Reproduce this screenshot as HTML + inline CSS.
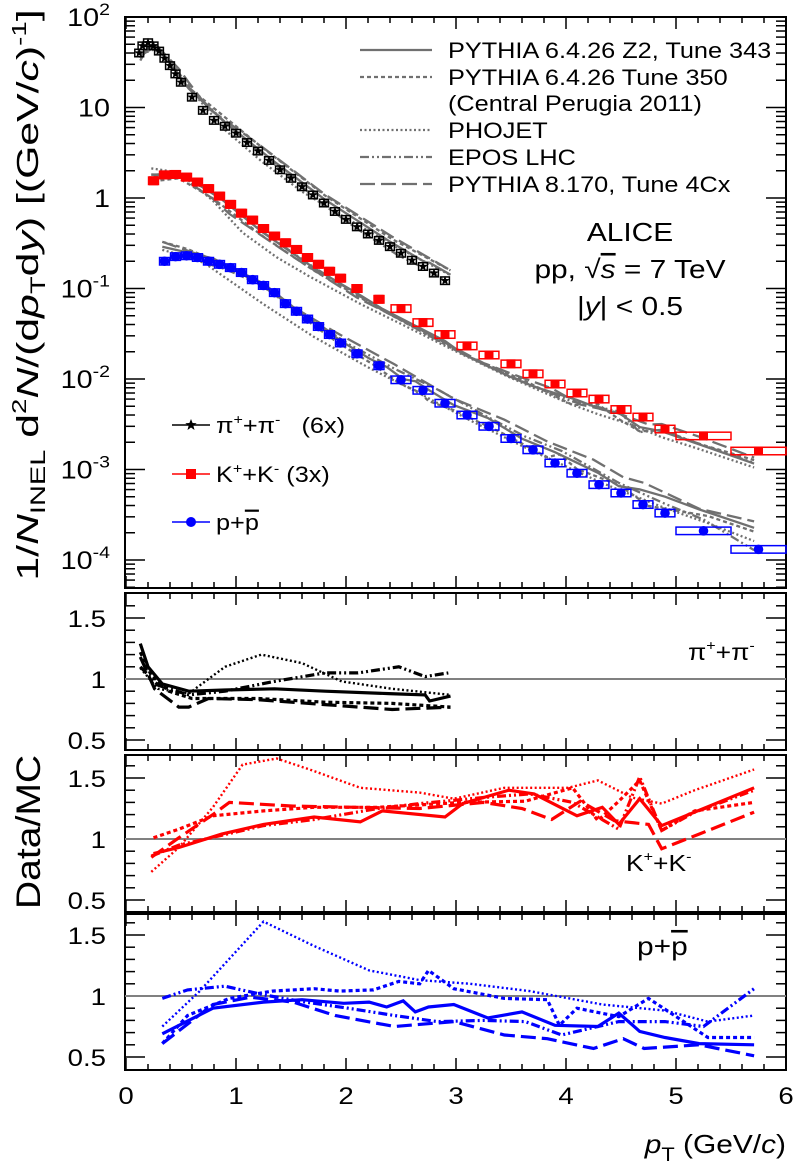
<!DOCTYPE html>
<html><head><meta charset="utf-8"><style>
html,body{margin:0;padding:0;background:#fff;}
svg{display:block;font-family:"Liberation Sans",sans-serif;}
</style></head><body>
<svg id="c" width="796" height="1168" viewBox="0 0 796 1168" xmlns="http://www.w3.org/2000/svg">
<g id="frames"></g>
<g id="marks"></g>
<g id="texts"></g>
</svg>
<script>
// ---------- data ----------
const piPt = [0.12,0.15,0.2,0.25,0.3,0.35,0.4,0.45,0.5,0.6,0.7,0.8,0.9,1.0,1.1,1.2,1.3,1.4,1.5,1.6,1.7,1.8,1.9,2.0,2.1,2.2,2.3,2.4,2.5,2.6,2.7,2.8,2.9];
const piVal = [40,48,52,48,42,35,29,23.5,19,13,9.3,7.2,6.2,5.2,4.1,3.3,2.6,2.05,1.65,1.33,1.08,0.88,0.71,0.58,0.48,0.40,0.34,0.29,0.245,0.205,0.175,0.148,0.122];
const kPt = [0.25,0.35,0.45,0.55,0.65,0.75,0.85,0.95,1.05,1.15,1.25,1.35,1.45,1.55,1.65,1.75,1.85,1.95,2.1,2.3,2.5,2.7,2.9,3.1,3.3,3.5,3.7,3.9,4.1,4.3,4.5,4.7,4.9,5.25,5.75];
const kVal = [1.55,1.8,1.82,1.7,1.5,1.27,1.05,0.85,0.68,0.57,0.46,0.38,0.32,0.27,0.22,0.185,0.155,0.13,0.1,0.076,0.06,0.042,0.031,0.0232,0.0184,0.0147,0.0114,0.0088,0.0070,0.0060,0.0046,0.0038,0.0028,0.00235,0.0016];
const pPt = [0.35,0.45,0.55,0.65,0.75,0.85,0.95,1.05,1.15,1.25,1.35,1.45,1.55,1.65,1.75,1.85,1.95,2.1,2.3,2.5,2.7,2.9,3.1,3.3,3.5,3.7,3.9,4.1,4.3,4.5,4.7,4.9,5.25,5.75];
const pVal = [0.2,0.225,0.23,0.22,0.2,0.185,0.17,0.15,0.125,0.108,0.09,0.068,0.056,0.046,0.038,0.031,0.025,0.019,0.014,0.0098,0.0075,0.0054,0.0040,0.0030,0.0022,0.00165,0.00118,0.00091,0.00068,0.00055,0.00041,0.00033,0.00021,0.000131];

// ratios data/MC: pions
const rPiZ2Pt=[0.13,0.2,0.33,0.57,0.9,1.35,1.81,2.39,2.72,2.76,2.95];
const rPiZ2=[1.29,1.10,0.96,0.90,0.91,0.92,0.90,0.88,0.87,0.82,0.86];
const rPi350Pt=[0.13,0.23,0.39,0.6,1.2,1.81,2.42,2.95];
const rPi350=[1.22,1.03,0.90,0.84,0.84,0.81,0.80,0.77];
const rPiPhoPt=[0.13,0.29,0.57,0.9,1.23,1.6,1.96,2.42,2.95];
const rPiPho=[1.09,0.92,0.88,1.10,1.20,1.13,0.98,0.92,0.87];
const rPiEposPt=[0.13,0.29,0.57,0.9,1.35,1.81,2.11,2.48,2.72,2.93];
const rPiEpos=[1.10,0.95,0.87,0.90,0.98,1.05,1.05,1.10,1.02,1.05];
const rPiP8Pt=[0.13,0.26,0.48,0.57,0.75,1.2,1.81,2.42,2.95];
const rPiP8=[1.18,0.92,0.77,0.77,0.84,0.83,0.79,0.75,0.77];
// kaons
const rKZ2Pt=[0.25,0.48,0.87,1.25,1.71,2.13,2.33,2.9,3.06,3.48,3.71,4.1,4.33,4.48,4.67,4.87,5.71];
const rKZ2=[0.88,0.93,1.04,1.12,1.18,1.14,1.23,1.18,1.29,1.40,1.37,1.19,1.26,1.12,1.33,1.11,1.42];
const rK350Pt=[0.25,0.48,0.79,1.25,1.71,2.29,3.06,3.63,4.06,4.29,4.48,4.67,4.87,5.17,5.71];
const rK350=[1.01,1.08,1.19,1.23,1.26,1.26,1.30,1.31,1.42,1.15,1.31,1.48,1.07,1.23,1.30];
const rKPhoPt=[0.23,0.48,0.79,1.06,1.37,1.67,2.13,2.67,2.98,3.44,4.02,4.29,4.6,4.87,5.17,5.71];
const rKPho=[0.73,0.93,1.26,1.61,1.66,1.57,1.42,1.38,1.33,1.42,1.42,1.48,1.34,1.29,1.40,1.57];
const rKEposPt=[0.23,0.48,0.87,1.25,1.71,2.29,2.67,3.25,3.67,4.06,4.48,4.67,4.87,5.17,5.71];
const rKEpos=[0.86,0.95,1.03,1.11,1.16,1.25,1.29,1.34,1.37,1.30,1.08,1.51,1.07,1.22,1.40];
const rKP8Pt=[0.23,0.48,0.79,0.94,1.52,2.1,2.67,3.25,3.6,3.87,4.13,4.44,4.75,4.87,5.21,5.71];
const rKP8=[0.85,1.01,1.20,1.30,1.27,1.26,1.25,1.30,1.25,1.16,1.31,1.15,1.12,0.92,1.04,1.22];
// protons
const rPZ2Pt=[0.33,0.79,1.25,1.6,1.98,2.21,2.37,2.52,2.63,2.75,2.98,3.29,3.6,3.9,4.29,4.48,4.67,4.9,5.21,5.71];
const rPZ2=[0.69,0.90,0.95,0.97,0.94,0.95,0.91,0.96,0.87,0.91,0.93,0.82,0.87,0.76,0.75,0.86,0.71,0.66,0.61,0.60];
const rP350Pt=[0.33,0.56,0.94,1.33,1.71,1.94,2.25,2.48,2.67,2.75,2.98,3.44,3.83,3.94,4.1,4.48,4.75,5.29,5.71];
const rP350=[0.61,0.84,0.98,1.04,1.06,1.04,1.05,1.12,1.10,1.21,1.06,0.98,0.97,0.76,0.90,0.83,0.98,0.66,0.66];
const rPPhoPt=[0.33,0.67,1.25,1.71,2.21,2.67,3.13,3.67,4.33,4.9,5.29,5.71];
const rPPho=[0.75,1.04,1.61,1.41,1.21,1.13,1.10,1.04,0.93,0.88,0.79,0.84];
const rPEposPt=[0.33,0.56,0.9,1.25,1.63,2.02,2.44,2.83,3.25,3.63,3.96,4.48,4.9,5.25,5.71];
const rPEpos=[0.98,1.05,1.08,1.01,0.95,0.90,0.84,0.79,0.80,0.79,0.68,0.79,0.79,0.75,1.06];
const rPP8Pt=[0.33,0.79,1.13,1.52,1.9,2.44,2.98,3.44,3.83,4.25,4.52,4.71,5.21,5.71];
const rPP8=[0.61,0.93,0.99,0.95,0.84,0.75,0.79,0.68,0.65,0.57,0.65,0.57,0.60,0.51];

const xTicks=[0,1,2,3,4,5,6];
const mainYExp=[2,1,0,-1,-2,-3,-4];
const ratioTicks=[0.5,1,1.5];

// ---------- axes ----------
const NS="http://www.w3.org/2000/svg";
const SX=1.15;
const X=v=>126+110*v;
const YM=v=>17+90.5*(2-Math.log10(v));
const rC=[679,839,996];
const YR=(p,v)=>rC[p]-122*(v-1);
const panels=[[593,750],[755,912],[914,1070]];
const L=125,R=786;
const fr=document.getElementById('frames'),mk=document.getElementById('marks'),tx=document.getElementById('texts');
function el(tag,attrs,parent){const e=document.createElementNS(NS,tag);for(const k in attrs)e.setAttribute(k,attrs[k]);parent.appendChild(e);return e;}
function line(x1,y1,x2,y2,w,parent){return el('line',{x1,y1,x2,y2,stroke:'#000','stroke-width':w},parent);}
function stext(x,y,size,anchor){return el('text',{x:0,y:0,transform:'translate('+x+','+y+') scale('+SX+',1)','font-size':size,'text-anchor':anchor},tx);}

let mf=el('rect',{x:L,y:17,width:R-L,height:571,fill:'none',stroke:'#000','stroke-width':2},fr);


function xTickRow(top,bot){
  for(let i=0;i<=30;i++){const v=i*0.2,x=X(v),len=(i%5===0)?12:6;
    line(x,bot,x,bot-len,1.5,fr);line(x,top,x,top+len,1.5,fr);}
}
xTickRow(17,588);
for(let e=-5;e<=2;e++){for(let m=1;m<10;m++){const v=m*Math.pow(10,e);const y=YM(v);if(y<17||y>588)continue;const len=m===1?20:10;
  line(L,y,L+len,y,1.5,fr);line(R,y,R-len,y,1.5,fr);}}
mainYExp.forEach(e=>{const y=YM(Math.pow(10,e));
  const t=stext(110,y+9,25,'end');
  
  
  if(e===1)t.textContent='10';else if(e===0)t.textContent='1';
  else{t.textContent='10';const s=el('tspan',{dy:-11,'font-size':17},t);s.textContent=String(e);}
});
panels.forEach((pp,p)=>{
  const r=el('rect',{x:L,y:pp[0],width:R-L,height:pp[1]-pp[0],fill:'none',stroke:'#000','stroke-width':2},fr);
  
  
  xTickRow(pp[0],pp[1]);
  for(let k=4;k<=17;k++){const v=k/10,y=YR(p,v);if(y<pp[0]+1||y>pp[1]-1)continue;const len=(k%5===0)?20:10;
    line(L,y,L+len,y,1.5,fr);line(R,y,R-len,y,1.5,fr);}
  const g=el('line',{x1:L,y1:YR(p,1),x2:R,y2:YR(p,1),stroke:'#808080','stroke-width':2},fr);
  
  
  ratioTicks.forEach(v=>{const t=stext(106,YR(p,v)+9,24,'end');
    
    
    t.textContent=String(v);});
});
xTicks.forEach(v=>{const t=stext(X(v),1104,24,'middle');
  
  
  t.textContent=String(v);});

// ---------- marks ----------
const DASH={z2:'',t350:'4,3',pho:'2,2.5',epos:'9,3,2,3,2,3',p8:'15,6'};
function interpLog(pts,vals,x){if(x<=pts[0])return vals[0];if(x>=pts[pts.length-1])return vals[vals.length-1];
  for(let i=0;i<pts.length-1;i++)if(x<=pts[i+1]){const f=(x-pts[i])/(pts[i+1]-pts[i]);return Math.pow(10,Math.log10(vals[i])*(1-f)+Math.log10(vals[i+1])*f);}}
function path(points,color,dash,w,name){
  const d=points.map((q,i)=>(i?'L':'M')+q[0].toFixed(1)+','+q[1].toFixed(1)).join('');
  const p=el('path',{d,fill:'none',stroke:color,'stroke-width':w,'stroke-dasharray':dash},mk);
  
  
}
const species=[
 {pt:piPt,val:piVal,col:'#000',name:'pion',r:[[rPiZ2Pt,rPiZ2,'z2'],[rPi350Pt,rPi350,'t350'],[rPiPhoPt,rPiPho,'pho'],[rPiEposPt,rPiEpos,'epos'],[rPiP8Pt,rPiP8,'p8']]},
 {pt:kPt,val:kVal,col:'#ff0000',name:'kaon',r:[[rKZ2Pt,rKZ2,'z2'],[rK350Pt,rK350,'t350'],[rKPhoPt,rKPho,'pho'],[rKEposPt,rKEpos,'epos'],[rKP8Pt,rKP8,'p8']]},
 {pt:pPt,val:pVal,col:'#0000ff',name:'proton',r:[[rPZ2Pt,rPZ2,'z2'],[rP350Pt,rP350,'t350'],[rPPhoPt,rPPho,'pho'],[rPEposPt,rPEpos,'epos'],[rPP8Pt,rPP8,'p8']]}
];
species.forEach(s=>{s.r.forEach(r=>{
  const pts=r[0].map((x,i)=>[X(x),YM(interpLog(s.pt,s.val,x)/r[1][i])]);
  path(pts,'#707070',DASH[r[2]],2.3,s.name+'-mc-'+r[2]+'-curve');
});});
function star(cx,cy,R,color){let d='';for(let i=0;i<10;i++){const a=-Math.PI/2+i*Math.PI/5,rr=i%2?R*0.42:R;d+=(i?'L':'M')+(cx+rr*Math.cos(a)).toFixed(1)+','+(cy+rr*Math.sin(a)).toFixed(1);}
  const p=el('path',{d:d+'Z',fill:color},mk);
  
  }
species.forEach((s,si)=>{s.pt.forEach((x,i)=>{
  const v=s.val[i];const hw=si===0?0.04:(x>=5?0.25:(x>=2.4?0.09:0.045));
  const b=el('rect',{x:X(x-hw),y:YM(v*1.1),width:X(x+hw)-X(x-hw),height:YM(v/1.1)-YM(v*1.1),fill:'none',stroke:s.col,'stroke-width':1.5},mk);
  
  
  if(si===0)star(X(x),YM(v),5,'#000');
  else if(si===1){const m=el('rect',{x:X(x)-4.5,y:YM(v)-4.5,width:9,height:9,fill:s.col},mk);
    
    }
  else{const m=el('circle',{cx:X(x),cy:YM(v),r:4.8,fill:s.col},mk);
    
    }
});});
species.forEach((s,si)=>{s.r.forEach(r=>{
  const pts=r[0].map((x,i)=>[X(x),YR(si,r[1][i])]);
  path(pts,s.col,DASH[r[2]],r[2]==='pho'?2.4:3.2,s.name+'-ratio-'+r[2]);
});});

// ---------- legends ----------
const legItems=[['z2','PYTHIA 6.4.26 Z2, Tune 343',58],['t350','PYTHIA 6.4.26 Tune 350',85],['','(Central Perugia 2011)',111],['pho','PHOJET',138],['epos','EPOS LHC',165],['p8','PYTHIA 8.170, Tune 4Cx',192]];
legItems.forEach(it=>{
  if(it[0]!==''){const l=el('line',{x1:360,y1:it[2]-8,x2:432,y2:it[2]-8,stroke:'#707070','stroke-width':2.3,'stroke-dasharray':DASH[it[0]]},mk);
    
    }
  const t=stext(448,it[2],22,'start');
  
  
  t.textContent=it[1];
});
</script>
<svg width="796" height="1168" viewBox="0 0 796 1168" style="position:absolute;left:0;top:0" xmlns="http://www.w3.org/2000/svg" font-family="Liberation Sans, sans-serif">
<text transform="translate(630,241) scale(1.15,1)" font-size="26" text-anchor="middle">ALICE</text>
<text transform="translate(630,278) scale(1.15,1)" font-size="26" text-anchor="middle">pp, √<tspan text-decoration="overline" font-style="italic">s</tspan> = 7 TeV</text>
<text transform="translate(630,315) scale(1.15,1)" font-size="26" text-anchor="middle">|<tspan font-style="italic">y</tspan>| &lt; 0.5</text>

<g>
<line x1="172" y1="425" x2="210" y2="425" stroke="#000" stroke-width="1.5"/>
<path d="M191,419 L192.6,423 L196.7,423.2 L193.4,425.8 L194.5,430 L191,427.5 L187.5,430 L188.6,425.8 L185.3,423.2 L189.4,423 Z" fill="#000"/>
<text transform="translate(216,433) scale(1.15,1)" font-size="22">π<tspan dy="-9" font-size="14">+</tspan><tspan dy="9">+π</tspan><tspan dy="-9" font-size="14">-</tspan><tspan dy="9" xml:space="preserve">   (6x)</tspan></text>
</g>
<g>
<line x1="172" y1="474" x2="210" y2="474" stroke="#ff0000" stroke-width="1.5"/>
<rect x="186" y="469" width="10" height="10" fill="#ff0000"/>
<text transform="translate(216,482) scale(1.15,1)" font-size="22">K<tspan dy="-9" font-size="14">+</tspan><tspan dy="9">+K</tspan><tspan dy="-9" font-size="14">-</tspan><tspan dy="9"> (3x)</tspan></text>
</g>
<g>
<line x1="172" y1="522" x2="210" y2="522" stroke="#0000ff" stroke-width="1.5"/>
<circle cx="191" cy="522" r="5" fill="#0000ff"/>
<text transform="translate(216,530) scale(1.15,1)" font-size="22">p+<tspan text-decoration="overline">p</tspan></text>
</g>

<text transform="translate(688,660) scale(1.15,1)" font-size="23">π<tspan dy="-10" font-size="14">+</tspan><tspan dy="10">+π</tspan><tspan dy="-10" font-size="14">-</tspan></text>
<text transform="translate(626,871) scale(1.15,1)" font-size="23">K<tspan dy="-10" font-size="14">+</tspan><tspan dy="10">+K</tspan><tspan dy="-10" font-size="14">-</tspan></text>
<text transform="translate(637,955) scale(1.15,1)" font-size="26">p+<tspan text-decoration="overline">p</tspan></text>

<text transform="translate(38,295) rotate(-90) scale(1.38,1)" font-size="31" text-anchor="middle">1/<tspan font-style="italic">N</tspan><tspan dy="7" font-size="21">INEL</tspan><tspan dy="-7"> d</tspan><tspan dy="-12" font-size="20">2</tspan><tspan dy="12" font-style="italic">N</tspan>/(d<tspan font-style="italic">p</tspan><tspan dy="7" font-size="21">T</tspan><tspan dy="-7">d</tspan><tspan font-style="italic">y</tspan>) [(GeV/<tspan font-style="italic">c</tspan>)<tspan dy="-12" font-size="20">-1</tspan><tspan dy="12">]</tspan></text>
<text transform="translate(40,832) rotate(-90) scale(1.15,1)" font-size="34" text-anchor="middle">Data/MC</text>
<text transform="translate(786,1153) scale(1.15,1)" font-size="26" text-anchor="end"><tspan font-style="italic">p</tspan><tspan dy="8" font-size="19">T</tspan><tspan dy="-8"> (GeV/</tspan><tspan font-style="italic">c</tspan>)</text>
</svg>
</body></html>
